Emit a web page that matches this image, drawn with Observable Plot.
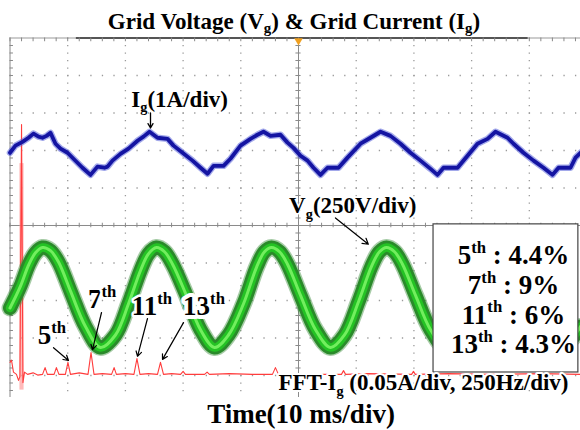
<!DOCTYPE html>
<html><head><meta charset="utf-8">
<script src="https://cdn.jsdelivr.net/npm/d3@7"></script>
<script src="https://cdn.jsdelivr.net/npm/@observablehq/plot@0.6"></script>
<style>
body{margin:0;background:#fff;width:580px;height:430px;overflow:hidden;font-family:"Liberation Serif","Times New Roman",serif;}
#title{height:34px;box-sizing:border-box;padding-top:11px;padding-left:8px;text-align:center;font-weight:bold;font-size:23px;line-height:22px;white-space:nowrap;}
#title sub{font-size:65%;vertical-align:-0.3em;line-height:0;}
#caption{margin-top:0px;padding-left:22px;text-align:center;font-weight:bold;font-size:27px;line-height:20px;white-space:nowrap;position:relative;}
svg{display:block;}
</style></head><body>
<div id="title">Grid Voltage (V<sub>g</sub>) &amp; Grid Current (I<sub>g</sub>)</div>
<div id="chart"></div>
<div id="caption">Time(10 ms/div)</div>
<script>
// ---- Grid current Ig (time in ms, current in A) ----
const igTime = [0,0.95,2.17,3.21,4.07,4.94,5.63,6.33,7.02,7.89,
  8.75,9.97,11.0,12.56,13.95,15.16,16.38,16.9,17.76,19.15,
  20.54,22.1,23.14,24.18,25.56,27.3,28.34,29.9,31.63,33.02,
  34.23,35.27,37.0,38.21,39.95,41.68,42.89,43.93,45.15,46.88,
  48.09,49.13,50.35,51.56,52.6,53.81,55.03,56.93,58.49,60.75,
  62.48,64.21,65.94,67.68,69.41,71.14,72.88,74.09,75.13,77.56,
  79.29,81.02,82.76,84.14,86.22,87.26,88.99,90.73,92.46,94.02,
  95.06,97.14,98.01,98.87];
const igAmps = [0.04,0.23,0.33,0.44,0.55,0.47,0.44,0.49,0.57,0.28,
  0.15,0.04,-0.12,-0.36,-0.55,-0.33,-0.36,-0.33,-0.17,0.01,
  0.15,0.36,0.47,0.6,0.44,0.41,0.23,0.04,-0.17,-0.36,
  -0.52,-0.31,-0.31,-0.12,0.23,0.41,0.52,0.6,0.49,0.52,
  0.31,0.17,-0.04,-0.17,-0.36,-0.55,-0.36,-0.36,-0.09,0.28,
  0.44,0.6,0.49,0.28,0.04,-0.17,-0.39,-0.55,-0.36,-0.36,
  -0.04,0.28,0.41,0.6,0.44,0.28,0.04,-0.17,-0.36,-0.55,
  -0.36,-0.36,-0.09,0.04];

// ---- Grid voltage Vg (time in ms, voltage in V) ----
const vgTime = [0,1.82,3.21,4.42,5.63,7.02,8.41,10.49,13.08,15.68,
  18.28,20.54,22.62,24.0,25.39,26.78,28.17,30.42,33.02,35.45,
  37.87,40.47,42.72,44.11,45.32,46.71,48.09,50.35,52.95,55.55,
  57.97,60.4,62.65,64.04,65.25,66.64,68.02,70.28,72.88,75.48,
  78.08,80.68,83.28,85.01,86.74,90.21,95.41,98.87];
const vgVolts = [-70,76,215,298,333,312,236,42,-194,-333,
  -250,-42,180,291,333,305,222,28,-215,-333,
  -250,-42,201,305,333,305,222,14,-215,-333,
  -250,-28,208,305,333,305,222,14,-215,-333,
  -250,-28,222,333,305,-42,-333,-194];

// ---- FFT of Ig (frequency in Hz, amplitude in A) ----
const fftFreq = [0,6.5,15,28,37,43,50,56,63,76,100,120,141,152,162,191,201,212,240,251,262,300,338,351,364,400,440,451,461,500,537,550,563,600,639,652,665,700,739,750,760,843,854,864,950,1050,1137,1150,1163,1250,1350,1436,1445,1454,1550,1740,1748,1756,1900,2100,2300,2472];
const fftAmp  = [0.016,0.019,0.003,0,-0.008,-0.003,0.333,-0.011,0.003,0,0.002,-0.001,0,0.009,0,0,0.009,0,0,0.016,0,0.002,0,0.029,0,0.001,0,0.009,0,0.001,0,0.021,0,0.001,0,0.016,0,0.001,0,0.004,0,0,0.003,0,0.001,0,0,0.009,0,0.001,0,0,0.005,0,0.001,0,0.004,0,0.001,0,0.001,0];
// smeared fundamental band: [f1, f2, a1, a2]
const fftSmear = [[43, 61, -0.021, 0.281]];

// ---- Harmonic table ----
const harmonicOrders = [5, 7, 11, 13];
const harmonicPercent = [4.4, 9, 6, 4.3];

// ---- Scope channel settings (per division) ----
const msPerDiv = 10, igPerDiv = 1, vgPerDiv = 250, fftAPerDiv = 0.05, fftHzPerDiv = 250;
const igOffset = 1.9, vgOffset = -1.92, fftOffset = -3.97;

const ig = igTime.map((t, i) => ({t, y: igOffset + igAmps[i] / igPerDiv}));
const vg = vgTime.map((t, i) => ({t, y: vgOffset + vgVolts[i] / vgPerDiv}));
const fft = fftFreq.map((f, i) => ({t: f / fftHzPerDiv * msPerDiv, y: fftOffset + fftAmp[i] / fftAPerDiv}));
const smear = fftSmear.map(([f1, f2, a1, a2]) => ({
  t1: f1 / fftHzPerDiv * msPerDiv, t2: f2 / fftHzPerDiv * msPerDiv,
  y1: fftOffset + a1 / fftAPerDiv, y2: fftOffset + a2 / fftAPerDiv}));
const harm = harmonicOrders.map((o, i) => ({label: `${o}^{th} : ${harmonicPercent[i]}%`, i}));

const XMAX = 98.87, YMIN = -4.587, YMAX = 5;
const vGrid = [10,20,30,40,60,70,80,90];
const hGrid = [4,3,2,1,-1,-2,-3,-4];
const minorX = d3.range(0, XMAX, 2);
const minorY = d3.range(YMIN + 0.187, YMAX, 0.2);
const grey = "#9a9a9a";
const bold = {fontWeight: "bold", fill: "black"};

const svg = Plot.plot({
  width: 580, height: 370,
  marginLeft: 9.5, marginRight: 0, marginTop: 3.5, marginBottom: 7,
  x: {domain: [0, XMAX], axis: null},
  y: {domain: [YMIN, YMAX], axis: null},
  style: {fontFamily: '"Liberation Serif", "Times New Roman", serif', background: "white", overflow: "visible"},
  marks: [
    // dotted grid
    Plot.ruleX(vGrid, {y1: YMAX, y2: YMIN, stroke: grey, strokeWidth: 1.3, strokeDasharray: "1.3 6.2"}),
    Plot.ruleY(hGrid, {x1: 0, x2: XMAX, stroke: grey, strokeWidth: 1.3, strokeDasharray: "1.3 10.24"}),
    // centre cross with ticks
    Plot.ruleX([50], {y1: YMAX, y2: YMIN, stroke: "#8a8a8a"}),
    Plot.ruleY([0], {x1: 0, x2: XMAX, stroke: "#8a8a8a"}),
    Plot.ruleY(minorY, {x1: 49.55, x2: 50.45, stroke: "#8a8a8a"}),
    Plot.ruleX(minorX, {y1: -0.06, y2: 0.06, stroke: "#8a8a8a"}),
    // border + border ticks
    Plot.ruleX([0], {y1: YMAX, y2: YMIN, stroke: "#888"}),
    Plot.ruleY([YMAX], {x1: 0, x2: XMAX, stroke: "#999"}),
    Plot.ruleY([YMAX], {x1: 11.5, x2: 89.8, stroke: "#555", strokeWidth: 2}),
    Plot.ruleY(minorY, {x1: 0, x2: 0.6, stroke: "#888"}),
    Plot.ruleX(minorX, {y1: YMAX, y2: YMAX - 0.1, stroke: "#888"}),
    Plot.dot([50], {x: d => d, y: YMAX - 0.07, symbol: "triangle", rotate: 180, fill: "#f0a020", r: 3.2}),
    // FFT trace
    Plot.rect(smear, {x1: "t1", x2: "t2", y1: "y1", y2: "y2", fill: "#ff9c9c", fillOpacity: 0.7}),
    Plot.line(fft, {x: "t", y: "y", stroke: "#ff3c3c", strokeWidth: 1.1}),
    // Vg band
    Plot.line(vg, {x: "t", y: "y", curve: "catmull-rom", stroke: "#3c8f3c", strokeOpacity: 0.45, strokeWidth: 17}),
    Plot.line(vg, {x: "t", y: "y", curve: "catmull-rom", stroke: "#2a8a2a", strokeWidth: 14}),
    Plot.line(vg, {x: "t", y: "y", curve: "catmull-rom", stroke: "#24c224", strokeWidth: 8.5}),
    Plot.line(vg, {x: "t", y: "y", curve: "catmull-rom", stroke: "#72ee5e", strokeWidth: 3}),
    // Ig trace
    Plot.line(ig, {x: "t", y: "y", stroke: "#5560d8", strokeOpacity: 0.55, strokeWidth: 6.5}),
    Plot.line(ig, {x: "t", y: "y", stroke: "#1414a2", strokeWidth: 3.8}),
    // harmonic box
    Plot.rect([0], {x1: 73.4, x2: 98.5, y1: -3.92, y2: 0.03, fill: "white", stroke: "#444", strokeWidth: 1.2}),
    Plot.text(harm, {x: 87.26, y: (d, i) => -1.04 - i * 0.787, text: "label", textAnchor: "middle", lineAnchor: "bottom", fontSize: 27, ...bold}),
    // annotations
    Plot.text(["I_{g}(1A/div)"], {x: 29.4, y: 3.17, text: d => d, textAnchor: "middle", lineAnchor: "bottom", fontSize: 23, ...bold}),
    Plot.arrow([0], {x1: 24.35, y1: 3.0, x2: 24.35, y2: 2.6, stroke: "black", strokeWidth: 1.3, headLength: 7}),
    Plot.text(["V_{g}(250V/div)"], {x: 59.4, y: 0.32, text: d => d, textAnchor: "middle", lineAnchor: "bottom", fontSize: 23, stroke: "white", strokeWidth: 3, ...bold}),
    Plot.arrow([0], {x1: 56.4, y1: 0.2, x2: 62.1, y2: -0.5, stroke: "black", strokeWidth: 1.2, headLength: 8}),
    Plot.text(["5^{th}"], {x: 4.8, y: -3.17, text: d => d, textAnchor: "start", lineAnchor: "bottom", fontSize: 27, stroke: "white", strokeWidth: 5, ...bold}),
    Plot.text(["7^{th}"], {x: 13.5, y: -2.21, text: d => d, textAnchor: "start", lineAnchor: "bottom", fontSize: 27, stroke: "white", strokeWidth: 5, ...bold}),
    Plot.text(["11^{th}"], {x: 21.1, y: -2.4, text: d => d, textAnchor: "start", lineAnchor: "bottom", fontSize: 27, stroke: "white", strokeWidth: 5, ...bold}),
    Plot.text(["13^{th}"], {x: 30.0, y: -2.4, text: d => d, textAnchor: "start", lineAnchor: "bottom", fontSize: 27, stroke: "white", strokeWidth: 8, ...bold}),
    Plot.arrow([0], {x1: 7.54, y1: -3.26, x2: 10.14, y2: -3.6, stroke: "black", strokeWidth: 1.2, headLength: 7}),
    Plot.arrow([0], {x1: 15.86, y1: -2.32, x2: 14.3, y2: -3.31, stroke: "black", strokeWidth: 1.2, headLength: 7}),
    Plot.arrow([0], {x1: 23.83, y1: -2.48, x2: 22.1, y2: -3.49, stroke: "black", strokeWidth: 1.2, headLength: 7}),
    Plot.arrow([0], {x1: 30.07, y1: -2.59, x2: 26.43, y2: -3.57, stroke: "black", strokeWidth: 1.2, headLength: 7}),
    Plot.text(["FFT-I_{g} (0.05A/div, 250Hz/div)"], {x: 46.53, y: -4.4, text: d => d, textAnchor: "start", lineAnchor: "bottom", fontSize: 23, stroke: "white", strokeWidth: 4, ...bold})
  ]
});
document.getElementById("chart").append(svg);

// turn ^{..} / _{..} markers into real super/subscript tspans
function richify(root) {
  const NS = "http://www.w3.org/2000/svg";
  root.querySelectorAll("text").forEach(t => {
    const s = t.textContent;
    if (!/[\^_]\{/.test(s)) return;
    const fs = parseFloat(getComputedStyle(t).fontSize) || 16;
    t.textContent = "";
    const re = /([\^_])\{([^}]*)\}|([^\^_]+)/g;
    let m, shift = 0;
    while ((m = re.exec(s))) {
      const ts = document.createElementNS(NS, "tspan");
      if (m[3] !== undefined) {
        ts.textContent = m[3];
        if (shift) ts.setAttribute("dy", -shift);
        shift = 0;
      } else {
        const off = m[1] === "^" ? -0.42 * fs : 0.22 * fs;
        ts.textContent = m[2];
        ts.setAttribute("font-size", (0.62 * fs).toFixed(1));
        ts.setAttribute("dy", off - shift);
        shift = off;
      }
      t.appendChild(ts);
    }
  });
}
richify(svg);
</script></body></html>
